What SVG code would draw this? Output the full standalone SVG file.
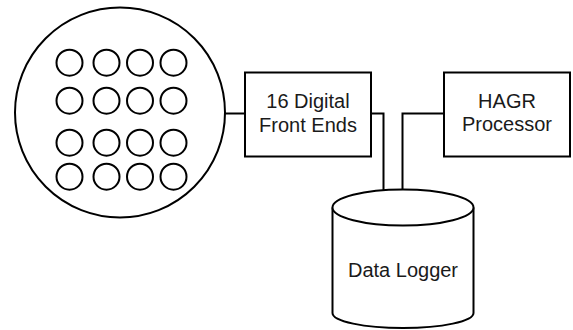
<svg xmlns="http://www.w3.org/2000/svg" width="573" height="330" viewBox="0 0 573 330">
  <style>
    .shape { fill: #ffffff; stroke: #000000; stroke-width: 2; }
    .wire { fill: none; stroke: #000000; stroke-width: 2; }
    .label { font-family: "Liberation Sans", Arial, sans-serif; font-size: 20px; fill: #1a1a1a; text-anchor: middle; }
  </style>
  <defs>
    <circle id="pixel" r="13" class="shape" stroke-width="2"/>
  </defs>
  <rect width="573" height="330" fill="#ffffff"/>

  <g id="connectors">
    <line class="wire" x1="225" y1="113.5" x2="245" y2="113.5"/>
    <polyline class="wire" points="371,113.5 383.5,113.5 383.5,190"/>
    <polyline class="wire" points="444,113.5 402.5,113.5 402.5,190"/>
  </g>

  <g id="detector-array">
    <circle class="shape" cx="120" cy="112.5" r="105"/>
    <use href="#pixel" x="69.5" y="62.7"/>
    <use href="#pixel" x="106.5" y="62.7"/>
    <use href="#pixel" x="140" y="62.7"/>
    <use href="#pixel" x="173.5" y="62.7"/>
    <use href="#pixel" x="69.5" y="100.7"/>
    <use href="#pixel" x="106.5" y="100.7"/>
    <use href="#pixel" x="140" y="100.7"/>
    <use href="#pixel" x="173.5" y="100.7"/>
    <use href="#pixel" x="69.5" y="142.7"/>
    <use href="#pixel" x="106.5" y="142.7"/>
    <use href="#pixel" x="140" y="142.7"/>
    <use href="#pixel" x="173.5" y="142.7"/>
    <use href="#pixel" x="69.5" y="176.7"/>
    <use href="#pixel" x="106.5" y="176.7"/>
    <use href="#pixel" x="140" y="176.7"/>
    <use href="#pixel" x="173.5" y="176.7"/>
  </g>

  <g id="front-ends">
    <rect class="shape" x="245" y="72.5" width="126" height="84"/>
    <text class="label" x="308" y="108.3">16 Digital</text>
    <text class="label" x="308" y="131.5">Front Ends</text>
  </g>

  <g id="hagr-processor">
    <rect class="shape" x="444" y="72.5" width="126" height="84"/>
    <text class="label" x="507" y="108.3">HAGR</text>
    <text class="label" x="507" y="131">Processor</text>
  </g>

  <g id="data-logger">
    <path class="shape" d="M332.5,207.5 L332.5,313 A70.5,15 0 0 0 473.5,313 L473.5,207.5"/>
    <ellipse class="shape" cx="403" cy="207.5" rx="70.5" ry="18"/>
    <text class="label" x="403" y="276.7">Data Logger</text>
  </g>
</svg>
